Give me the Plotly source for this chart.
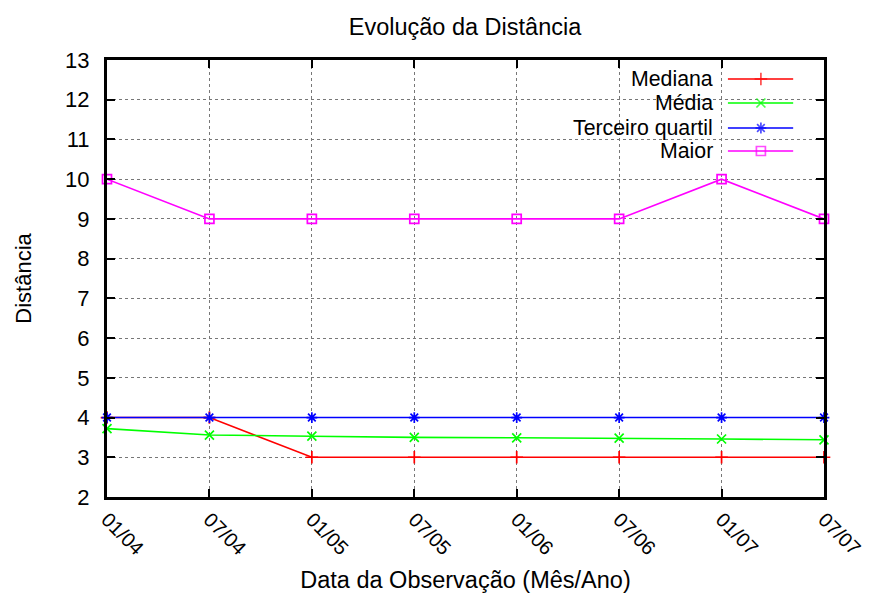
import plotly.graph_objects as go

# ---- data ----
periodos = ["01/04", "07/04", "01/05", "07/05", "01/06", "07/06", "01/07", "07/07"]
mediana = [4, 4, 3, 3, 3, 3, 3, 3]
media = [3.72, 3.56, 3.53, 3.50, 3.49, 3.48, 3.46, 3.44]
terceiro_quartil = [4, 4, 4, 4, 4, 4, 4, 4]
maior = [10, 9, 9, 9, 9, 9, 10, 9]
y_ticks = list(range(2, 14))

series_names = ["Mediana", "Média", "Terceiro quartil", "Maior"]
series_values = [mediana, media, terceiro_quartil, maior]
colors = ["#ff0000", "#00ff00", "#0000ff", "#ff00ff"]
symbols = ["cross-thin-open", "x-thin-open", "asterisk-open", "square-open"]

FONT = "Liberation Sans, Arial, sans-serif"
FS = 22
FT = 23.5
xs = list(range(len(periodos)))

fig = go.Figure()
for name, vals, col, sym in zip(series_names, series_values, colors, symbols):
    fig.add_trace(go.Scatter(
        x=xs, y=vals, name=name, mode="lines+markers",
        line=dict(color=col, width=1.6),
        marker=dict(symbol=sym, size=9, color=col, line=dict(color=col, width=1.7)),
        showlegend=False, cliponaxis=False,
    ))

# ---- custom legend (text left, sample right, as in gnuplot) ----
leg_rows = [0.9565, 0.9016, 0.8444, 0.7918]
lx0, lxm, lx1, ltext = 0.866, 0.912, 0.957, 0.846
for name, col, sym, ry in zip(series_names, colors, symbols, leg_rows):
    fig.add_trace(go.Scatter(
        x=[lx0, lxm, lx1], y=[ry, ry, ry], xaxis="x2", yaxis="y2",
        mode="lines+markers", line=dict(color=col, width=1.6),
        marker=dict(symbol=sym, size=[0, 9, 0], color=col, line=dict(color=col, width=1.7)),
        showlegend=False, hoverinfo="skip",
    ))
    fig.add_annotation(x=ltext, y=ry, xref="paper", yref="paper", text=name,
                       showarrow=False, xanchor="right", yanchor="middle",
                       borderpad=0,
                       font=dict(family=FONT, size=21.3, color="black"))

fig.add_shape(type="rect", xref="paper", yref="paper", x0=0.524, x1=1.0, y0=0.76, y1=1.0,
              fillcolor="white", line=dict(width=0), layer="between")

axis_common = dict(
    showline=True, linecolor="black", linewidth=3, mirror="ticks",
    ticks="inside", ticklen=8, tickwidth=2, tickcolor="black",
    showgrid=True, gridcolor="#777777", gridwidth=1, griddash="dot",
    zeroline=False, automargin=False, ticklabeloverflow="allow",
)

# page body has an 8px margin (page overflow is clipped by the 871x594 window)
fig.update_layout(
    width=871, height=594,
    margin=dict(l=99, r=55, t=52, b=105),
    paper_bgcolor="white", plot_bgcolor="white",
    title=dict(text="Evolução da Distância", x=0.5247, xanchor="center",
               y=0.968, yanchor="middle", yref="container",
               font=dict(family=FONT, size=FT, color="black")),
    xaxis=dict(range=[0, 7], tickmode="array", tickvals=xs, ticktext=periodos,
               tickangle=45, ticklabelstandoff=0,
               tickfont=dict(family=FONT, size=20, color="black"),
               title=dict(text="Data da Observação (Mês/Ano)", standoff=14,
                          font=dict(family=FONT, size=FT, color="black")),
               **axis_common),
    yaxis=dict(range=[2, 13], tickmode="array", tickvals=y_ticks, ticklabelstandoff=10,
               tickfont=dict(family=FONT, size=FS, color="black"),
               title=dict(text="Distância", standoff=28,
                          font=dict(family=FONT, size=FS, color="black")),
               **axis_common),
    xaxis2=dict(overlaying="x", range=[0, 1], visible=False, domain=[0, 1]),
    yaxis2=dict(overlaying="y", range=[0, 1], visible=False, domain=[0, 1]),
)

fig.write_html("out.html")
